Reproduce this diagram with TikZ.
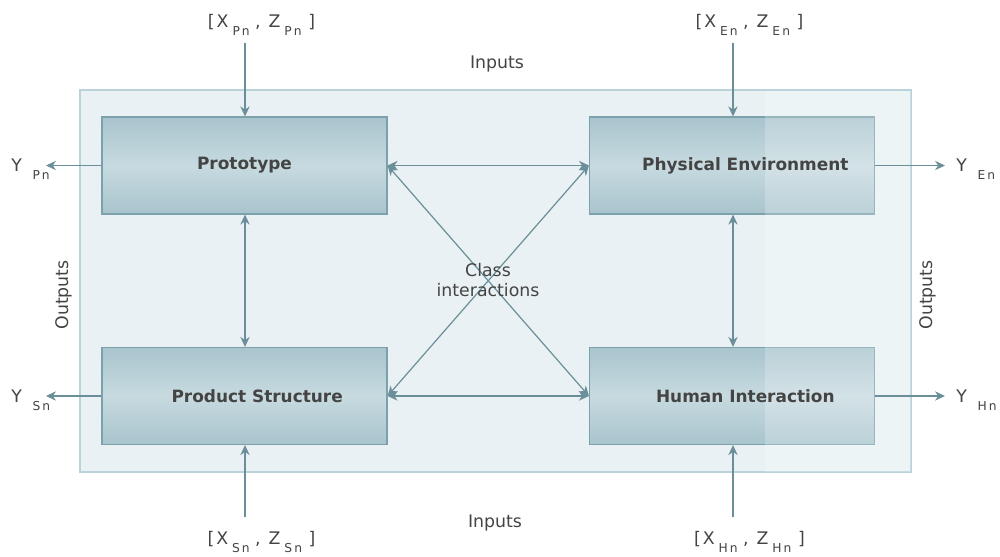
\documentclass[tikz,border=0pt]{standalone}
\usepackage{fontspec}
\setmainfont{DejaVu Sans}
\usetikzlibrary{arrows.meta}
\definecolor{boxdark}{RGB}{168,196,205}
\definecolor{boxlight}{RGB}{199,218,224}
\definecolor{boxborder}{RGB}{125,161,171}
\definecolor{outerfill}{RGB}{233,241,244}
\definecolor{outerborder}{RGB}{186,210,218}
\definecolor{linecol}{RGB}{106,143,153}
\definecolor{txtcol}{RGB}{68,68,68}
\newcommand\lowsub[1]{\raisebox{-6pt}{\fontsize{9.2}{10}\selectfont #1}}
\tikzset{
  outerbox/.style={draw=outerborder, line width=0.8pt, fill=outerfill},
  blk/.style={draw=boxborder, line width=0.9pt, top color=boxdark, bottom color=boxdark, middle color=boxlight,
    minimum width=213.75pt, minimum height=72.75pt, inner sep=0pt},
  blktext/.style={text=txtcol, font=\fontsize{12.7}{14}\selectfont\bfseries},
  lbl/.style={text=txtcol, font=\fontsize{13}{15.5}\selectfont, inner sep=0pt},
  arr/.style={draw=linecol, line width=0.9pt, -{Stealth[length=7.5pt,width=7pt]}},
  darr/.style={draw=linecol, line width=0.9pt, {Stealth[length=7.5pt,width=7pt]}-{Stealth[length=7.5pt,width=7pt]}},
}
\begin{document}
\begin{tikzpicture}[x=0.75pt,y=-0.75pt]
\useasboundingbox (0,0) rectangle (1000,557);
\fill[white] (0,0) rectangle (1000,557);
% outer frame
\draw[outerbox] (80,90) rectangle (911,472);
% blocks
\node[blk] (proto) at (244.5,165.5) {};
\node[blk] (phys) at (732,165.5) {};
\node[blk] (prod) at (244.5,396) {};
\node[blk] (human) at (732,396) {};
% lighter overlay on the right
\fill[white,opacity=0.22] (765,90.5) rectangle (910.5,471.5);
% block texts
\node[blktext] (protoT) at ([xshift=0pt]proto.center) {Prototype};
\node[blktext] (physT) at ([xshift=10pt]phys.center) {Physical Environment};
\node[blktext] (prodT) at ([xshift=9.5pt]prod.center) {Product Structure};
\node[blktext] (humanT) at ([xshift=10pt]human.center) {Human Interaction};
% coordinates for free ends
\coordinate (inP) at (245,43);
\coordinate (inE) at (733,43);
\coordinate (inS) at (245,517);
\coordinate (inH) at (733,517);
\coordinate (outP) at (46,165.5);
\coordinate (outS) at (46,396);
\coordinate (outE) at (945,165.5);
\coordinate (outH) at (945,396);
% inputs
\draw[arr] (inP) -- (proto.north -| inP);
\draw[arr] (inE) -- (phys.north -| inE);
\draw[arr] (inS) -- (prod.south -| inS);
\draw[arr] (inH) -- (human.south -| inH);
% outputs
\draw[arr] (proto.west) -- (outP);
\draw[arr] (prod.west) -- (outS);
\draw[arr] (phys.east) -- (outE);
\draw[arr] (human.east) -- (outH);
% class interactions
\draw[darr] (proto.east) -- (phys.west);
\draw[darr] (prod.east) -- (human.west);
\draw[darr] (proto.south -| inP) -- (prod.north -| inP);
\draw[darr] (phys.south -| inE) -- (human.north -| inE);
\draw[darr] (proto.east) -- (human.west);
\draw[darr] (prod.east) -- (phys.west);
% labels
\newcommand\inlab[1]{[\hspace{1.5pt}X\hspace{3pt}\lowsub{#1}\hspace{4pt},\hspace{6pt}Z\hspace{3pt}\lowsub{#1}\hspace{5pt}]}
\node[lbl, anchor=base] (lP) at (261.5,27) {\inlab{P\,n}};
\node[lbl, anchor=base] (lE) at (749.5,27) {\inlab{E\,n}};
\node[lbl, anchor=base] (lS) at (261.5,544) {\inlab{S\,n}};
\node[lbl, anchor=base] (lH) at (749.5,544) {\inlab{H\,n}};
\node[lbl, anchor=base west] (yP) at (11,171) {Y\hspace{8pt}\lowsub{P\,n}};
\node[lbl, anchor=base west] (yS) at (11,402) {Y\hspace{8pt}\lowsub{S\,n}};
\node[lbl, anchor=base west] (yE) at (956,171) {Y\hspace{8pt}\lowsub{E\,n}};
\node[lbl, anchor=base west] (yH) at (956,402) {Y\hspace{8pt}\lowsub{H\,n}};
\node[lbl] (inTop) at (497,64) {Inputs};
\node[lbl] (inBot) at (495,523) {Inputs};
\node[lbl, rotate=90] (outL) at (64,295) {Outputs};
\node[lbl, rotate=90] (outR) at (928,295) {Outputs};
\node[lbl, align=center] (ci) at (488,280) {Class\\interactions};
\end{tikzpicture}
\end{document}
